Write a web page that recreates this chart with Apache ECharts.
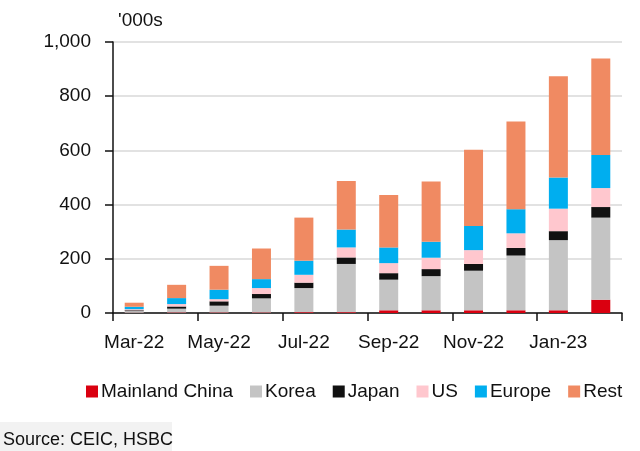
<!DOCTYPE html>
<html>
<head>
<meta charset="utf-8">
<script src="https://cdn.jsdelivr.net/npm/echarts@6/dist/echarts.min.js"></script>
<style>
html,body{margin:0;padding:0;background:#fff;}
#c{width:640px;height:451px;}
</style>
</head>
<body>
<div id="c"></div>
<script>
const categories = ['Mar-22','Apr-22','May-22','Jun-22','Jul-22','Aug-22','Sep-22','Oct-22','Nov-22','Dec-22','Jan-23','Feb-23'];
const mainlandChina = [1, 2, 2, 2, 3, 3, 10, 10, 10, 10, 10, 49];
const korea =         [6, 14, 25, 52, 89, 178, 113, 126, 146, 202, 259, 303];
const japan =         [3, 8, 16, 16, 20, 24, 24, 26, 25, 28, 33, 39];
const us =            [4, 9, 8, 22, 29, 37, 37, 42, 51, 54, 83, 70];
const europe =        [9, 22, 35, 33, 52, 66, 58, 59, 89, 89, 115, 122];
const rest =          [15, 49, 88, 113, 159, 179, 193, 222, 281, 324, 374, 356];
const yTicks = [0, 200, 400, 600, 800, 1000];

const seriesDefs = [
  ['Mainland China', mainlandChina, '#DA0010'],
  ['Korea', korea, '#C4C4C4'],
  ['Japan', japan, '#111111'],
  ['US', us, '#FFC7CE'],
  ['Europe', europe, '#00AEEF'],
  ['Rest', rest, '#F08A62']
];

const font = 'Liberation Sans, Arial, sans-serif';
const chart = echarts.init(document.getElementById('c'), null, {renderer: 'canvas'});
chart.setOption({
  animation: false,
  backgroundColor: '#ffffff',
  textStyle: {fontFamily: font},
  grid: {left: 113, right: 18, top: 42, bottom: 138, containLabel: false},
  graphic: [
    {type: 'text', left: 118, top: 11, style: {text: "'000s", font: '19px ' + font, fill: '#111'}},
    {type: 'rect', left: 0, top: 422, shape: {width: 172, height: 31}, style: {fill: '#f2f2f2'}},
    {type: 'text', left: 3, top: 431, style: {text: 'Source: CEIC, HSBC', font: '18px ' + font, fill: '#111'}}
  ],
  legend: {
    left: 81, top: 377,
    icon: 'rect', itemWidth: 12, itemHeight: 12, itemGap: 17,
    textStyle: {fontSize: 19, color: '#111', fontFamily: font, padding: [0, 0, 0, -2]},
    data: seriesDefs.map(d => d[0])
  },
  xAxis: {
    type: 'category',
    data: categories,
    boundaryGap: true,
    axisLine: {lineStyle: {color: '#111', width: 1.5}},
    axisTick: {show: true, interval: 1, length: 8, lineStyle: {color: '#111', width: 1.5}},
    axisLabel: {interval: 1, fontSize: 19, color: '#111', margin: 20, fontFamily: font}
  },
  yAxis: {
    type: 'value',
    min: yTicks[0], max: yTicks[yTicks.length - 1], interval: 200,
    axisLine: {show: true, lineStyle: {color: '#111', width: 1.5}},
    axisTick: {show: true, length: 8, lineStyle: {color: '#111', width: 1.5}},
    axisLabel: {fontSize: 19, color: '#111', margin: 22, fontFamily: font,
      formatter: v => v.toLocaleString('en-US')},
    splitLine: {show: true, lineStyle: {color: '#d9d9d9', width: 1.5}}
  },
  series: seriesDefs.map(d => ({
    name: d[0], type: 'bar', stack: 'total', data: d[1], barWidth: 19,
    itemStyle: {color: d[2]}
  }))
});
</script>
</body>
</html>
